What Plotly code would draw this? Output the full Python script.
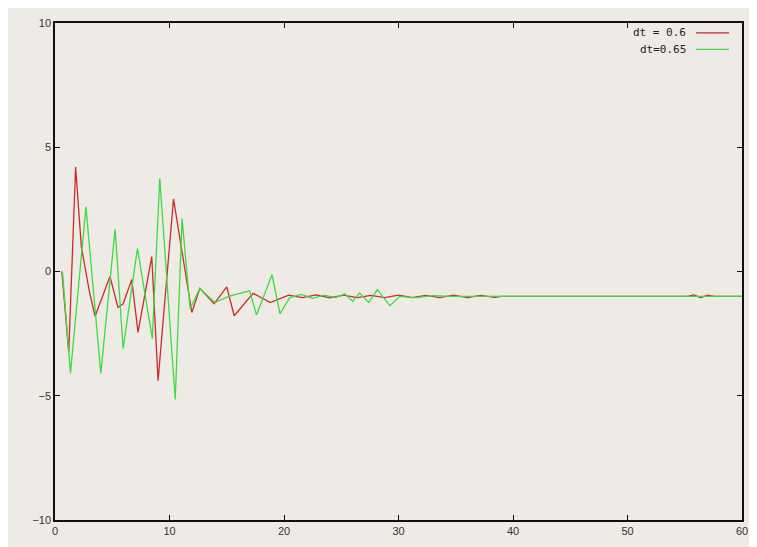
import plotly.graph_objects as go

# dt = 0.6 run (time, value)
red_t = [0.6, 1.2, 1.8, 2.3, 3.0, 3.5, 4.8, 5.5, 5.95, 6.7, 7.25, 8.45, 9.0, 10.35,
         11.95, 12.65, 13.9, 15.0, 15.65, 17.3, 18.8, 20.4, 21.6, 22.8, 24.0, 25.2,
         26.4, 27.6, 28.8, 30.0, 31.2, 32.4, 33.6, 34.8, 36.0, 37.2, 38.4, 39.0,
         40.0, 55.2, 55.8, 56.4, 57.0, 57.6, 60.0]
red_y = [0.0, -3.25, 4.2, 1.0, -0.8, -1.8, -0.2, -1.45, -1.3, -0.33, -2.45, 0.6, -4.4, 2.92,
         -1.65, -0.68, -1.3, -0.62, -1.78, -0.88, -1.25, -0.95, -1.05, -0.94, -1.06, -0.95,
         -1.05, -0.96, -1.05, -0.95, -1.05, -0.96, -1.05, -0.95, -1.05, -0.96, -1.04, -1.0,
         -1.0, -1.0, -0.94, -1.05, -0.95, -1.0, -1.0]

# dt = 0.65 run
green_t = [0.65, 1.35, 2.7, 4.0, 5.25, 5.95, 7.2, 8.5, 9.15, 10.5, 11.1, 11.8, 12.65,
           13.95, 15.3, 17.0, 17.6, 18.95, 19.65, 20.5, 21.5, 22.5, 23.5, 24.5, 25.3,
           26.0, 26.6, 27.4, 28.15, 29.25, 30.1, 31.5, 33.0, 34.5, 60.0]
green_y = [0.0, -4.1, 2.6, -4.1, 1.7, -3.1, 0.93, -2.7, 3.75, -5.15, 2.13, -1.5, -0.68,
           -1.25, -0.98, -0.78, -1.75, -0.13, -1.7, -1.05, -0.92, -1.08, -0.95, -1.05, -0.9,
           -1.2, -0.86, -1.25, -0.73, -1.38, -1.0, -1.05, -0.97, -1.0, -1.0]

series = [("dt = 0.6", red_t, red_y, "#cc2a2a"), ("dt=0.65", green_t, green_y, "#3ddc3d")]
x_ticks = [0, 10, 20, 30, 40, 50, 60]
y_ticks = [-10, -5, 0, 5, 10]

bg = "#eeebe6"
fig = go.Figure()
for name, t, y, col in series:
    fig.add_trace(go.Scatter(x=t, y=y, mode="lines", name=name,
                             line=dict(color=col, width=1.3)))

# gnuplot-style key: text right-aligned, sample line to the right
for i, (name, _, _, col) in enumerate(series):
    yy = 0.980 - i * 0.033
    fig.add_annotation(x=0.921, y=yy, xref="paper", yref="paper", text=name,
                       showarrow=False, xanchor="right", yanchor="middle",
                       font=dict(family="DejaVu Sans Mono", size=11, color="#222"))
    fig.add_shape(type="line", xref="paper", yref="paper", x0=0.933, x1=0.981,
                  y0=yy, y1=yy, line=dict(color=col, width=1.3))

axis = dict(showgrid=False, zeroline=False, showline=True, linecolor="#111",
            linewidth=1.5, mirror="allticks", ticks="inside", ticklen=5,
            tickcolor="#111", tickfont=dict(family="Liberation Sans", size=11, color="#333"))
fig.update_xaxes(range=[0, 60], tickvals=x_ticks, **axis)
fig.update_yaxes(range=[-10, 10], tickvals=y_ticks, **axis)
fig.update_layout(width=749, height=539, showlegend=False,
                  paper_bgcolor=bg, plot_bgcolor=bg,
                  margin=dict(l=47, r=15, t=9, b=27))
fig.write_html("out.html")
